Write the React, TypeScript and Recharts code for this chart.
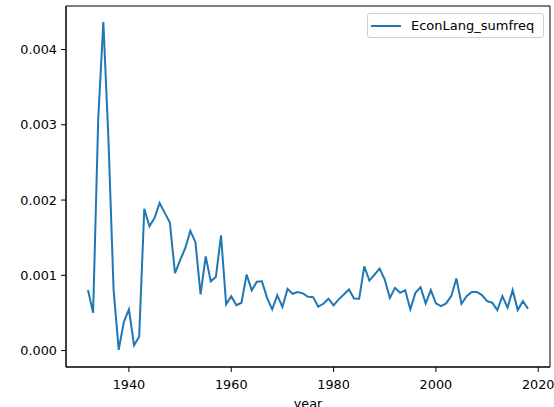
import React from "react";
import { LineChart, Line, XAxis, YAxis, ReferenceArea } from "recharts";

// years and values
const years = [
  1932, 1933, 1934, 1935, 1936, 1937, 1938, 1939, 1940, 1941, 1942, 1943, 1944,
  1945, 1946, 1947, 1948, 1949, 1950, 1951, 1952, 1953, 1954, 1955, 1956, 1957,
  1958, 1959, 1960, 1961, 1962, 1963, 1964, 1965, 1966, 1967, 1968, 1969, 1970,
  1971, 1972, 1973, 1974, 1975, 1976, 1977, 1978, 1979, 1980, 1981, 1982, 1983,
  1984, 1985, 1986, 1987, 1988, 1989, 1990, 1991, 1992, 1993, 1994, 1995, 1996,
  1997, 1998, 1999, 2000, 2001, 2002, 2003, 2004, 2005, 2006, 2007, 2008, 2009,
  2010, 2011, 2012, 2013, 2014, 2015, 2016, 2017, 2018,
];

const sumfreq = [
  0.000803, 0.000503, 0.00308, 0.004366, 0.0028, 0.00081, 0.00001, 0.00038,
  0.000547, 0.00007, 0.000185, 0.001885, 0.00165, 0.00176, 0.00196, 0.00183,
  0.0017, 0.00103, 0.0012, 0.00136, 0.00159, 0.00144, 0.000746, 0.00125,
  0.00092, 0.00098, 0.00153, 0.000614, 0.000723, 0.000604, 0.000636, 0.00101,
  0.0008, 0.000914, 0.00092, 0.0007, 0.000547, 0.000737, 0.000578, 0.00082,
  0.000755, 0.000777, 0.00076, 0.000715, 0.00071, 0.000583, 0.000622, 0.000689,
  0.0006, 0.00068, 0.000746, 0.000812, 0.000693, 0.00069, 0.00112, 0.00093,
  0.00101, 0.00109, 0.000944, 0.0007, 0.000834, 0.000768, 0.000803, 0.000547,
  0.000768, 0.000843, 0.000627, 0.000803, 0.000627, 0.00059, 0.000627, 0.000723,
  0.000958, 0.000622, 0.000723, 0.00078, 0.00078, 0.000737, 0.000657, 0.000636,
  0.000538, 0.000723, 0.00057, 0.000803, 0.000538, 0.000657, 0.000556,
];

const xTicks = [1940, 1960, 1980, 2000, 2020];
const yTicks = [0, 0.001, 0.002, 0.003, 0.004];

const data = years.map((year, i) => ({ year, EconLang_sumfreq: sumfreq[i] }));

const X_DOMAIN: [number, number] = [1927.7, 2022.3];
const Y_DOMAIN: [number, number] = [-0.000218, 0.004578];

const FONT = "'DejaVu Sans', sans-serif";
const BLUE = "#1f77b4";

// legend drawn as an overlay, so it does not push the plot area down
const LegendBox = () => (
  <div
    style={{
      position: "absolute",
      left: 367,
      top: 13,
      width: 177,
      height: 25,
      border: "1px solid #d0d0d0",
      borderRadius: 3,
      background: "rgba(255,255,255,0.8)",
      display: "flex",
      alignItems: "center",
      fontFamily: FONT,
      fontSize: 13,
      color: "#000",
      boxSizing: "border-box",
    }}
  >
    <div
      style={{ width: 30, height: 2, background: BLUE, marginLeft: 3, marginRight: 10 }}
    />
    <span>EconLang_sumfreq</span>
  </div>
);

export default function App() {
  const tickStyle = { fontFamily: FONT, fontSize: 12.8, fill: "#000" };
  return (
    <div
      style={{ position: "absolute", left: 0, top: 0, width: 554, height: 407, background: "#fff" }}
    >
      <LineChart
        width={554}
        height={407}
        data={data}
        margin={{ top: 6, right: 4, bottom: 0, left: 0 }}
      >
        <XAxis
          dataKey="year"
          type="number"
          domain={X_DOMAIN}
          ticks={xTicks}
          allowDataOverflow
          height={40}
          tick={tickStyle}
          tickSize={5}
          tickMargin={8}
          stroke="#000"
          label={{
            value: "year",
            position: "insideBottom",
            offset: -1,
            style: { fontFamily: FONT, fontSize: 12.8, fill: "#000" },
          }}
        />
        <YAxis
          type="number"
          domain={Y_DOMAIN}
          ticks={yTicks}
          allowDataOverflow
          width={66}
          tick={tickStyle}
          tickSize={5}
          tickMargin={4}
          stroke="#000"
          tickFormatter={(v: number) => v.toFixed(3)}
        />
        {/* matplotlib style frame round the plot area */}
        <ReferenceArea
          x1={X_DOMAIN[0]}
          x2={X_DOMAIN[1]}
          y1={Y_DOMAIN[0]}
          y2={Y_DOMAIN[1]}
          fill="none"
          fillOpacity={0}
          stroke="#000"
          strokeWidth={1}
          strokeOpacity={1}
          ifOverflow="visible"
        />
        <Line
          dataKey="EconLang_sumfreq"
          type="linear"
          stroke={BLUE}
          strokeWidth={2}
          dot={false}
          isAnimationActive={false}
        />
      </LineChart>
      <LegendBox />
    </div>
  );
}
